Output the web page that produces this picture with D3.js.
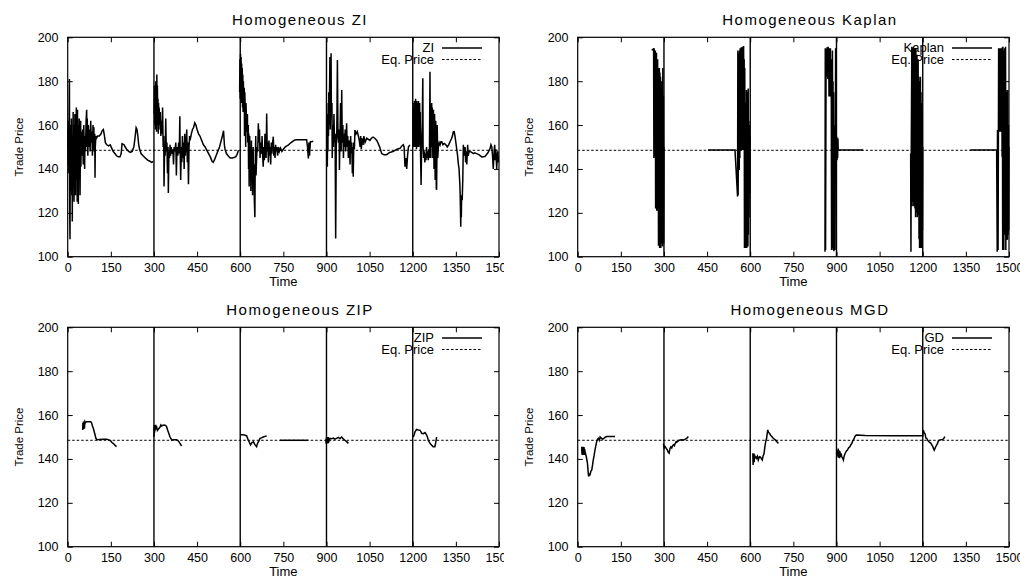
<!DOCTYPE html>
<html>
<head>
<meta charset="utf-8">
<script src="https://cdn.jsdelivr.net/npm/d3@7"></script>
<style>
  body { margin: 0; background: #fff; }
  svg { display: block; }
  text { font-family: "Liberation Sans", Arial, Helvetica, sans-serif; fill: #000; }
</style>
</head>
<body>
<svg id="chart" width="1020" height="579"></svg>
<script>
// Tick labels and reference levels
const xTicks = [0, 150, 300, 450, 600, 750, 900, 1050, 1200, 1350, 1500];
const yTicks = [100, 120, 140, 160, 180, 200];
const periodEnds = [300, 600, 900, 1200];
const eqPrice = 148.5;

// Homogeneous ZI trades, [time, price], one array per trading period
const ziP1 = [[0,150],[1,158],[2,142],[3,162],[4,138],[5,165],[6,181],[7,120],[8,108],[9,150],[10,135],[11,160],[12,130],[13,163],[14,128],[15,155],[16,116],[17,150],[18,140],[19,166],[20,132],[21,158],[22,125],[23,160],[24,136],[25,165],[26,145],[27,128],[28,160],[29,140],[30,168],[31,135],[32,155],[33,125],[34,167],[35,142],[36,160],[37,124],[38,150],[39,145],[40,163],[41,138],[42,155],[43,128],[44,148],[45,162],[46,141],[47,157],[48,146],[49,152],
  [50,146],[52,158],[54,142],[56,160],[58,145],[59,140],[60,155],[62,148],[64,162],[66,167],[67,150],[68,163],[70,146],[72,160],[74,150],[76,158],[78,148],[80,162],[82,152],[84,157],[86,146],[88,160],[90,152],[91,159],[92,148],[94,156],[95,136],[96,150],[98,155],[100,154],
  [104,155],[110,155],[116,156],[120,157.5],[124,158],[128,155],[131,152],[136,151],[142,150.5],[148,151],[153,149.5],[158,148],[164,147],[170,146],[176,145.5],[182,145.5],[186,147],[189,151.5],[196,151],[200,150],[205,149],[212,148],[218,147.5],[224,148],[230,150],[234,154],[238,158.8],[241,158],[244,155],[247,151],[250,149],[255,147],[262,146],[270,145],[278,144],[286,143.5],[292,143],[298,143.5]];
const ziP2 = [[301,165],[302,178],[303,160],[304,175],[305,158],[306,180],[307,162],[308,176],[309,157],[310,183],[311,165],[312,178],[313,160],[314,172],[315,156],[316,170],[317,158],[318,168],[320,160],[322,166],[324,155],[326,162],[328,156],[330,168],[332,150],[334,155],[335,132],[337,150],[339,146],[341,163],[343,148],[345,152],[347,138],[349,150],[350,129],[352,148],[354,145],[356,151],[358,146],[360,150],[363,147],[366,149],[368,142],[370,150],[373,148],[376,152],[378,137],[380,150],[383,146],[386,152],[388,147],[390,164],[391,150],[393,135],[395,150],[397,143],[399,155],[401,145],[403,152],[405,140],[407,156],[409,146],[411,150],[414,158],[416,143],[418,152],[420,133],[422,150],[424,155],[427,154],[430,156],[434,158],[438,159],[442,161],[446,160],[450,158],[455,156],[460,155],[466,153],[472,151],[478,150],[484,148.5],[490,147],[496,145.5],[502,143.5],[506,143],[510,144],[516,146],[522,148],[528,150],[532,152],[538,155],[542,157.4],[545,151],[547,149],[552,147],[558,146],[565,145],[572,145],[578,145.2],[584,145.5],[588,146.3],[594,148.5]];
const ziP3 = [[598,175],[599,190],[600,172],[601,192.5],[602,178],[603,191],[604,170],[605,188],[606,174],[607,186],[608,168],[609,183],[610,166],[611,180],[612,170],[614,177],[615,155],[616,175],[618,164],[619,150],[620,170],[622,162],[623,157],[625,165],[626,152],[628,160],[629,140],[630,156],[631,132],[633,155],[634,138],[636,150],[637,130],[639,153],[640,134],[642,148],[643,128],[645,150],[646,136],[648,142],[649,126],[651,118],[652,140],[654,155],[655,137],[657,145],[659,150],[661,148],[663,160.8],[665,152],[667,158],[669,145],[671,152],[674,147],[676,155],[678,146],[680,141],[682,150],[684,144],[686,156],[688,149],[690,145],[692,165.3],[694,148],[696,152],[698,143],[700,153],[702,146],[704,150],[706,142],[708,152],[710,147],[712,151],[715,154.7],[717,146],[719,150],[721,145],[723,151],[725,148],[727,150],[730,146],[733,150],[736,148],[740,149.5],[745,148],[750,149],[756,150],[762,150.5],[768,151],[773,151.6],[779,152.2],[785,152.8],[790,153.2],[796,153.3],[805,153.3],[815,153.3],[825,153.3],[831,153.3],[834,150],[837,144.8],[839,152],[841,146],[844,152.4],[848,152.4],[854,152.6]];
const ziP4 = [[901,150],[902,157],[903,141],[904,165],[905,148],[906,170],[907,155],[908,175],[909,160],[910,168],[912,191],[913,158],[915,172],[916,192.7],[917,165],[919,170],[920,145],[922,160],[924,150],[926,165],[928,152],[930,156],[932,108.3],[934,150],[936,158],[938,189.6],[940,155],[942,152],[944,158],[945,139.5],[947,155],[949,170],[951,148],[953,176],[955,152],[957,160],[959,145],[961,156],[963,150],[965,158],[967,148],[970,160.8],[972,150],[974,155],[976,145],[978,153],[980,150],[982,142],[984,155],[986,147],[988,152],[990,138],[992,150],[993,136.4],[995,152],[997,149],[999,157.7],[1003,156],[1007,157],[1011,155],[1014,153],[1017,150],[1019,155],[1021,149],[1024,154],[1027,151],[1030,155],[1034,152],[1040,154],[1046,153.5],[1051,153],[1056,154],[1062,154.5],[1068,154],[1075,153],[1080,151.6],[1085,150],[1092,147],[1100,146.5],[1109,146.5],[1120,147.5],[1133,148],[1145,149],[1156,149.4],[1162,150.5],[1167,151],[1170,150],[1173,141],[1176,145],[1179,140],[1182,146],[1185,150],[1190,151]];
const ziP5 = [[1201,150],[1202,168],[1203,153],[1204,170],[1205,150],[1206,171],[1207,152],[1208,169],[1209,150],[1210,172],[1211,151],[1212,168],[1213,149],[1214,171],[1215,152],[1216,170],[1217,150],[1218,169],[1219,153],[1220,171],[1221,150],[1222,168],[1223,155],[1224,170],[1225,151],[1226,166],[1227,148],[1229,132.7],[1231,152],[1233,160],[1235,181.3],[1236,150],[1238,145],[1240,148],[1242,143],[1244,147],[1246,144],[1248,150],[1250,145],[1252,148],[1254,144],[1256,149],[1258,145],[1260,184.3],[1261,150],[1263,145],[1265,165],[1266,170],[1267,150],[1268,168],[1270,145],[1272,167],[1274,140],[1276,165],[1278,135],[1280,162],[1282,131],[1283,130.5],[1285,160],[1287,145],[1289,150],[1292,152],[1295,151],[1298,152.4],[1301,152.4],[1305,151],[1310,151.6],[1315,151],[1320,150],[1325,151],[1330,152.5],[1335,153.9],[1338,155],[1341,156.9],[1344,157],[1347,155],[1350,152],[1353,149],[1356,146],[1358,143],[1361,140],[1364,132.6],[1365,128],[1367,113.7],[1368,125],[1369,118],[1370,128],[1372,125.7],[1374,135],[1376,151],[1379,146],[1382,150],[1384,143],[1386,148],[1388,142],[1391,151],[1393,146],[1396,148],[1399,148],[1405,147.5],[1411,147],[1416,147.3],[1422,147],[1430,146.5],[1440,145.5],[1451,145.7],[1456,146.5],[1462,147.5],[1469,149.4],[1472,151],[1475,150],[1478,145],[1480,140],[1483,148],[1485,151],[1487,144],[1489,149],[1492,140],[1494,146],[1496,148],[1498,143]];

// Homogeneous Kaplan trades
const kapP1 = [[257,194.3],[262,194.3],[264,195],[265,145],[266,195],[267,150],[268,192],[269,146],[270,194],[271,122],[272,190],[273,125],[274,193],[275,121],[276,189],[277,124],[278,190],[279,121],[280,186],[281,105],[282,185],[283,108],[284,186],[285,104],[286,184],[287,110],[288,182],[289,104],[290,178],[291,106],[292,180],[293,116],[294,174],[295,104.6],[296,186],[297,108],[298,173.5],[299,106],[300,150]];
const kapP2 = [[453,148.6],[547,148.6],[556,127.4],[557,194],[558,128],[560,193],[562,139.5],[563,194],[564,145],[565,195],[566,150],[567,194],[568,148.6],[569,195.5],[570,150],[571,193],[572,148.6],[573,195.7],[574,152],[575,194],[576,148.6],[577,196],[578,160],[579,190],[580,104],[581,186],[582,108],[583,170],[584,104],[585,168],[586,110],[587,176],[588,104],[589,175],[590,106],[591,160],[592,104.6],[593,176.7],[594,110],[595,162],[596,118],[597,160],[598,129],[599,155]];
const kapP3 = [[860,102.3],[861,195],[862,103],[864,194.5],[866,182],[867,195.5],[868,183],[869,195],[870,181],[871,195.7],[872,185],[873,195],[874,173],[875,195],[876,175],[877,194],[878,173],[879,195],[880,175],[881,190],[882,172],[883,103],[884,188],[885,150],[886,194],[887,104],[888,180],[889,103],[890,175],[891,102.5],[892,160],[893,104],[894,155],[895,103],[896,150],[897,195],[898,145],[899,155],[900,144],[901,154.7],[902,144],[903,152],[904,145],[905,154],[906,148.6],[993,148.6]];
const kapP4 = [[1158,147],[1159,102.3],[1160,146],[1162,195.7],[1163,123],[1164,194],[1165,125],[1166,195],[1167,130],[1168,195.7],[1169,123],[1170,192],[1171,128],[1172,195],[1173,122],[1174,190],[1175,118],[1176,195],[1177,121],[1178,188],[1179,120],[1180,192],[1181,118],[1182,186],[1183,125],[1184,190],[1185,119],[1186,182],[1187,108],[1188,180],[1189,104],[1190,178],[1191,108],[1192,182],[1193,104],[1194,175],[1195,110],[1196,170],[1197,104],[1198,165],[1199,112],[1200,150]];
const kapP5 = [[1365,148.6],[1457,148.6],[1459,102.3],[1460,157.8],[1462,103],[1464,195],[1465,158],[1466,194],[1467,157],[1468,195],[1469,160],[1470,194],[1471,157],[1472,195],[1473,158],[1475,195],[1476,145.6],[1477,195.5],[1478,103],[1479,195.7],[1480,108],[1481,194],[1482,103],[1483,190],[1484,140],[1485,195],[1486,110],[1488,195.7],[1489,103],[1490,176],[1491,108],[1492,175],[1493,107.6],[1494,170],[1495,108],[1496,176],[1497,110],[1498,160],[1499,112],[1500,150]];

// Homogeneous ZIP trades
const zipP1 = [[52,153.2],[53,156.5],[54,153.5],[55,157],[56,154],[57,157],[58,153.8],[60,157],[62,156.5],[65,157],[70,157],[75,157],[80,157],[83,156.5],[86,155],[89,154],[92,152.5],[95,151],[98,149.5],[101,148.8],[110,148.9],[124,149],[135,149],[141,148.8],[145,148.5],[149,148.3],[154,147.5],[159,147],[164,146.3],[170,145.6]];
const zipP2 = [[300,150],[301,155.5],[302,152],[303,155],[304,153],[306,155.5],[308,153.5],[310,154.2],[312,153],[315,153.5],[318,154],[321,154.5],[324,155.5],[327,155],[330,155.3],[335,155.5],[340,155.3],[344,154.7],[348,153],[352,151.5],[356,150],[362,148.6],[370,148.8],[379,148.8],[385,148.2],[391,147],[396,145.9]];
const zipP3 = [[602,151],[610,151],[617,150.8],[622,150.6],[628,148.6],[632,147.5],[636,146.4],[641,147.5],[646,147.8],[651,146.5],[657,145.6],[660,147],[663,147.8],[666,148.5],[669,149.4],[674,149.6],[680,150],[686,150.3],[692,150.5]];
const zipFlat = [[738,148.5],[837,148.5]];
const zipP4 = [[898,149],[899,147],[900,150],[901,147.2],[902,150],[903,147],[904,149.8],[905,147.5],[906,150],[907,147.2],[908,149.5],[910,148],[912,149.4],[918,149.2],[924,149.5],[929,149],[935,149.4],[941,149.8],[947,149.3],[953,150],[959,149],[965,148.4],[970,147.9],[976,147.1]];
const zipP5 = [[1202,150],[1205,151],[1208,152.4],[1211,153],[1214,153.5],[1219,153.2],[1225,153.1],[1228,152.5],[1231,151.7],[1237,151.5],[1243,152],[1248,151],[1251,150],[1254,148.6],[1258,147.5],[1262,146.8],[1266,146.2],[1271,145.6],[1277,145.6],[1280,147.5],[1283,150]];

// Homogeneous MGD trades
const mgdP1 = [[14,145.6],[15,142],[16,145.5],[17,141.8],[18,145.6],[19,142.2],[20,145],[21,142],[22,145.4],[23,141.8],[24,144.6],[26,143],[30,141],[34,138],[36,134.5],[38,132],[40,133],[43,132.8],[46,134.5],[49,135],[52,137.5],[54,139.5],[57,141.5],[60,144],[63,146],[66,147.9],[69,149],[72,149.4],[75,148.5],[78,150],[82,149.5],[86,149],[89,149.2],[93,149.6],[97,150],[101,150.2],[110,150.2],[120,150.2],[130,150.2]];
const mgdP2 = [[298,147],[301,145],[304,145.6],[308,144.8],[312,144],[315,143],[318,142.6],[321,144.8],[324,145.5],[327,145],[330,146],[333,146.5],[336,146],[339,147],[342,147.8],[344,147.6],[348,148],[352,148.4],[356,148.6],[362,148.7],[368,148.6],[374,149],[379,149.4],[385,150.2]];
const mgdP3 = [[609,142.6],[610,137.2],[611,141],[612,139],[613,142.5],[614,138.5],[615,142],[617,140.5],[620,140.8],[622,140.3],[625,141.2],[628,139.5],[632,141],[636,140.8],[639,140],[642,139.5],[645,141.5],[648,142.3],[651,145.6],[654,148],[657,149.4],[659,151.5],[661,153.2],[664,152],[667,151.7],[671,150.8],[675,150.2],[680,149.4],[686,148.8],[692,147.9],[698,147.1]];
const mgdP4 = [[904,144],[905,141],[906,144.8],[907,140.5],[908,144],[909,141.2],[910,143.8],[911,140.3],[912,143.5],[914,141],[916,142.5],[918,141],[921,140.5],[924,139.5],[927,141.5],[930,142.5],[934,143.5],[938,144],[942,145],[947,145.6],[950,146.5],[953,147],[956,148],[959,148.6],[962,149.5],[964,150.2],[967,150.7],[970,150.9],[1000,150.7],[1100,150.6],[1198,150.6]];
const mgdP5 = [[1200,150.2],[1202,153.2],[1205,152],[1208,151.5],[1211,149.5],[1214,149.4],[1217,148.6],[1220,148],[1224,147.5],[1228,147.2],[1231,146.5],[1235,145.6],[1238,144.5],[1240,144],[1244,145.2],[1247,146],[1251,147],[1254,148],[1257,148.5],[1260,148.6],[1265,148.8],[1270,148.9],[1274,149.5],[1277,150.2]];

const panels = [
    {title: "Homogeneous ZI", key: "ZI", segs: [ziP1, ziP2, ziP3, ziP4, ziP5], ox: 0, oy: 0, clip: true},
    {title: "Homogeneous Kaplan", key: "Kaplan", segs: [kapP1, kapP2, kapP3, kapP4, kapP5], ox: 510, oy: 0},
    {title: "Homogeneous ZIP", key: "ZIP", segs: [zipP1, zipP2, zipP3, zipFlat, zipP4, zipP5], ox: 0, oy: 290, clip: true},
    {title: "Homogeneous MGD", key: "GD", segs: [mgdP1, mgdP2, mgdP3, mgdP4, mgdP5], ox: 510, oy: 290}
];

const font = '"Liberation Sans", Arial, Helvetica, sans-serif';
const svg = d3.select("#chart");
svg.append("rect").attr("width", 1020).attr("height", 579).attr("fill", "#fff");

// clip for the left column (the 1500 label is cut in the original)
svg.append("defs").append("clipPath").attr("id", "leftClip")
    .append("rect").attr("x", 0).attr("y", 0).attr("width", 504).attr("height", 290);

// plot box inside each panel
const box = {left: 67.7, right: 499, top: 37.3, bottom: 256.7};

const x = d3.scaleLinear().domain([0, 1500]).range([box.left, box.right]);
const y = d3.scaleLinear().domain([100, 200]).range([box.bottom, box.top]);

const line = d3.line().x(d => x(d[0])).y(d => y(d[1]));

function drawPanel(p) {
    const g = svg.append("g").attr("transform", `translate(${p.ox},${p.oy})`);
    const inner = p.clip ? g.append("g").attr("clip-path", "url(#leftClip)") : g;

    // axes with inward ticks
    const bottom = inner.append("g")
        .attr("transform", `translate(0,${box.bottom})`)
        .call(d3.axisBottom(x).tickValues(xTicks).tickSize(-5).tickPadding(6.3).tickFormat(d3.format("d")));
    const left = inner.append("g")
        .attr("transform", `translate(${box.left},0)`)
        .call(d3.axisLeft(y).tickValues(yTicks).tickSize(-5).tickPadding(9.2));
    const top = inner.append("g")
        .attr("transform", `translate(0,${box.top})`)
        .call(d3.axisTop(x).tickValues(xTicks).tickSize(-5).tickFormat(""));
    const right = inner.append("g")
        .attr("transform", `translate(${box.right},0)`)
        .call(d3.axisRight(y).tickValues(yTicks).tickSize(-5).tickFormat(""));

    [bottom, left, top, right].forEach(a => {
        a.select(".domain").remove();
        a.attr("font-family", font).attr("font-size", 12.5);
        a.selectAll("line").attr("stroke", "#000").attr("stroke-width", 1);
        a.selectAll("text").attr("fill", "#000");
    });

    // frame
    inner.append("rect")
        .attr("x", box.left).attr("y", box.top)
        .attr("width", box.right - box.left).attr("height", box.bottom - box.top)
        .attr("fill", "none").attr("stroke", "#000").attr("stroke-width", 1.2);

    // title and axis labels
    g.append("text")
        .attr("x", 300).attr("y", 25)
        .attr("text-anchor", "middle")
        .attr("font-size", 15).attr("letter-spacing", 1.5)
        .text(p.title);

    g.append("text")
        .attr("x", (box.left + box.right) / 2).attr("y", 285.5)
        .attr("text-anchor", "middle")
        .attr("font-size", 13)
        .text("Time");

    g.append("text")
        .attr("transform", `translate(23,${(box.top + box.bottom) / 2}) rotate(-90)`)
        .attr("text-anchor", "middle")
        .attr("font-size", 11.5)
        .text("Trade Price");

    // legend
    const legend = g.append("g").attr("font-size", 13);
    legend.append("text").attr("x", 434).attr("y", 52.3).attr("text-anchor", "end").text(p.key);
    legend.append("text").attr("x", 434).attr("y", 63.8).attr("text-anchor", "end").text("Eq. Price");
    legend.append("line").attr("x1", 442).attr("x2", 482).attr("y1", 48).attr("y2", 48)
        .attr("stroke", "#000").attr("stroke-width", 1.3);
    legend.append("line").attr("x1", 442).attr("x2", 482).attr("y1", 59.5).attr("y2", 59.5)
        .attr("stroke", "#000").attr("stroke-width", 1).attr("stroke-dasharray", "2.5,2");

    // equilibrium price
    g.append("line")
        .attr("x1", x(0)).attr("x2", x(1500))
        .attr("y1", y(eqPrice)).attr("y2", y(eqPrice))
        .attr("stroke", "#000").attr("stroke-width", 1).attr("stroke-dasharray", "2.5,2");

    // period boundaries
    g.selectAll(".period")
        .data(periodEnds)
        .enter()
        .append("line")
        .attr("class", "period")
        .attr("x1", d => x(d)).attr("x2", d => x(d))
        .attr("y1", y(100)).attr("y2", y(200))
        .attr("stroke", "#000").attr("stroke-width", 1.4);

    // trade prices
    g.selectAll(".trades")
        .data(p.segs)
        .enter()
        .append("path")
        .attr("class", "trades")
        .attr("d", line)
        .attr("fill", "none")
        .attr("stroke", "#000")
        .attr("stroke-width", 1.5)
        .attr("stroke-linejoin", "miter");
}

panels.forEach(drawPanel);
</script>
</body>
</html>
